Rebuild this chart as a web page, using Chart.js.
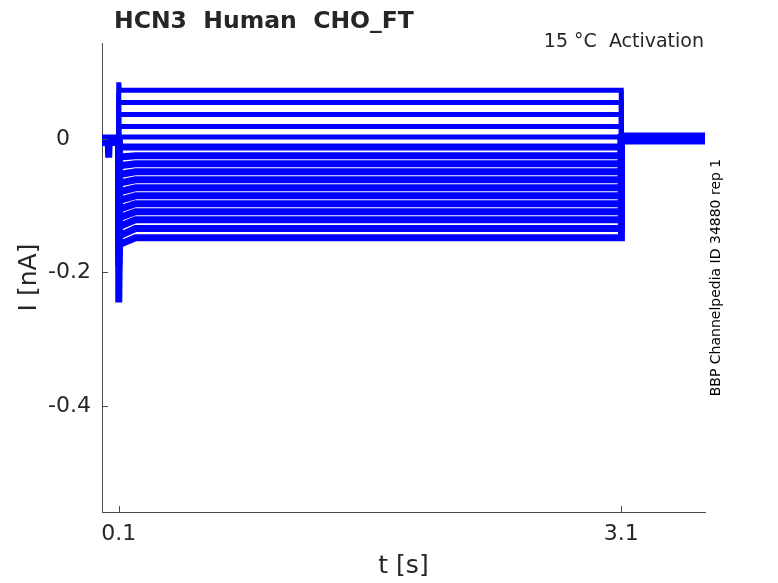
<!DOCTYPE html>
<html>
<head>
<meta charset="utf-8">
<title>HCN3 Human CHO_FT</title>
<script src="https://cdn.jsdelivr.net/npm/chart.js@4.4.1/dist/chart.umd.min.js"></script>
<style>
  html, body { margin: 0; padding: 0; background: #fff; }
  #wrap { width: 778px; height: 583px; }
</style>
</head>
<body>
<div id="wrap"><canvas id="chart" width="778" height="583"></canvas></div>
<script>
// protocol times (s)
const stepOn = 0.1;
const stepOff = 3.1;
const tEnd = 3.6;
const settleTime = 0.2;
const dipTime = 0.04;
const dipValue = -0.028;

const xTicks = [0.1, 3.1];
const yTicks = [0, -0.2, -0.4];

// currents in nA, one entry per sweep (top trace first)
const preLevels   = [0.003, 0.002, 0.002, 0.001, 0.000, 0.000, -0.001, -0.001, -0.002, -0.002, -0.003, -0.003, -0.003, -0.004, -0.004, -0.005, -0.005];
const onsetPeaks  = [0.085, 0.057, 0.040, 0.021, 0.004, -0.014, -0.030, -0.045, -0.060, -0.078, -0.095, -0.112, -0.130, -0.150, -0.170, -0.190, -0.245];
const earlyLevels = [0.073, 0.055, 0.037, 0.019, 0.003, -0.012, -0.027, -0.040, -0.053, -0.066, -0.079, -0.092, -0.105, -0.118, -0.131, -0.145, -0.158];
const stepLevels  = [0.073, 0.055, 0.037, 0.019, 0.003, -0.012, -0.025, -0.037, -0.049, -0.061, -0.073, -0.085, -0.097, -0.109, -0.121, -0.134, -0.148];
const tailLevels  = [0.006, 0.005, 0.005, 0.004, 0.003, 0.003, 0.002, 0.002, 0.001, 0.001, 0.000, 0.000, -0.001, -0.001, -0.002, -0.002, -0.003];

const axisColor = '#4a4a4a';
const textColor = '#262626';
const traceColor = '#0000ff';
const font = '"DejaVu Sans", sans-serif';

function sweep(i) {
  const pts = [{x: 0, y: preLevels[i]}];
  if (i === stepLevels.length - 1) {
    pts.push({x: dipTime - 0.003, y: preLevels[i]}, {x: dipTime, y: dipValue}, {x: dipTime + 0.003, y: preLevels[i]});
  }
  pts.push(
    {x: stepOn - 0.001, y: preLevels[i]},
    {x: stepOn, y: onsetPeaks[i]},
    {x: stepOn + 0.004, y: earlyLevels[i]},
    {x: settleTime, y: stepLevels[i]},
    {x: stepOff, y: stepLevels[i]},
    {x: stepOff + 0.001, y: tailLevels[i]},
    {x: tEnd, y: tailLevels[i]}
  );
  return pts;
}

const datasets = stepLevels.map((_, i) => ({
  data: sweep(i),
  borderColor: traceColor,
  borderWidth: i < 5 ? 5 : 7,
  pointRadius: 0,
  tension: 0,
  borderJoinStyle: 'miter',
  fill: false
}));

const decor = {
  id: 'decor',
  afterDraw(chart) {
    const {ctx, chartArea: a, scales: {x, y}} = chart;
    ctx.save();
    ctx.strokeStyle = axisColor;
    ctx.lineWidth = 1;
    ctx.beginPath();
    yTicks.forEach(v => {
      const py = Math.round(y.getPixelForValue(v)) + 0.5;
      ctx.moveTo(a.left, py); ctx.lineTo(a.left + 6, py);
    });
    xTicks.forEach(v => {
      const px = Math.round(x.getPixelForValue(v)) + 0.5;
      ctx.moveTo(px, a.bottom); ctx.lineTo(px, a.bottom - 6);
    });
    ctx.stroke();

    ctx.fillStyle = textColor;
    ctx.textBaseline = 'alphabetic';
    ctx.font = 'bold 23.5px ' + font;
    ctx.textAlign = 'left';
    ctx.fillText('HCN3  Human  CHO_FT', 114, 28);

    ctx.font = '19px ' + font;
    ctx.textAlign = 'right';
    ctx.fillText('15 °C  Activation', 704, 47);

    ctx.font = '14px ' + font;
    ctx.textAlign = 'center';
    ctx.textBaseline = 'middle';
    ctx.translate(716, (a.top + a.bottom) / 2);
    ctx.rotate(-Math.PI / 2);
    ctx.fillStyle = '#000';
    ctx.fillText('BBP Channelpedia ID 34880 rep 1', 0, 0);
    ctx.restore();
  }
};

new Chart(document.getElementById('chart'), {
  type: 'line',
  data: {datasets},
  options: {
    responsive: false,
    animation: false,
    layout: {padding: {top: 43, right: 73, left: 0, bottom: 0}},
    plugins: {legend: {display: false}, tooltip: {enabled: false}, title: {display: false}},
    scales: {
      x: {
        type: 'linear',
        min: 0, max: tEnd,
        afterBuildTicks: s => { s.ticks = xTicks.map(v => ({value: v})); },
        afterFit: s => { s.height = 71; },
        grid: {display: false, drawTicks: false},
        border: {display: true, color: axisColor, width: 1},
        ticks: {color: textColor, font: {family: font, size: 22}, padding: 9, maxRotation: 0,
                callback: v => v.toFixed(1)},
        title: {display: true, text: 't [s]', color: textColor, font: {family: font, size: 25}, padding: {top: 0, bottom: 2}}
      },
      y: {
        type: 'linear',
        min: -0.559, max: 0.144,
        afterBuildTicks: s => { s.ticks = yTicks.map(v => ({value: v})); },
        afterFit: s => { s.width = 102; },
        grid: {display: false, drawTicks: false},
        border: {display: true, color: axisColor, width: 1},
        ticks: {color: textColor, font: {family: font, size: 22}, padding: 11,
                callback: v => v === 0 ? '0   ' : v.toFixed(1)},
        title: {display: true, text: 'I [nA]', color: textColor, font: {family: font, size: 25}, padding: {top: 14, bottom: 0}}
      }
    }
  },
  plugins: [decor]
});
</script>
</body>
</html>
